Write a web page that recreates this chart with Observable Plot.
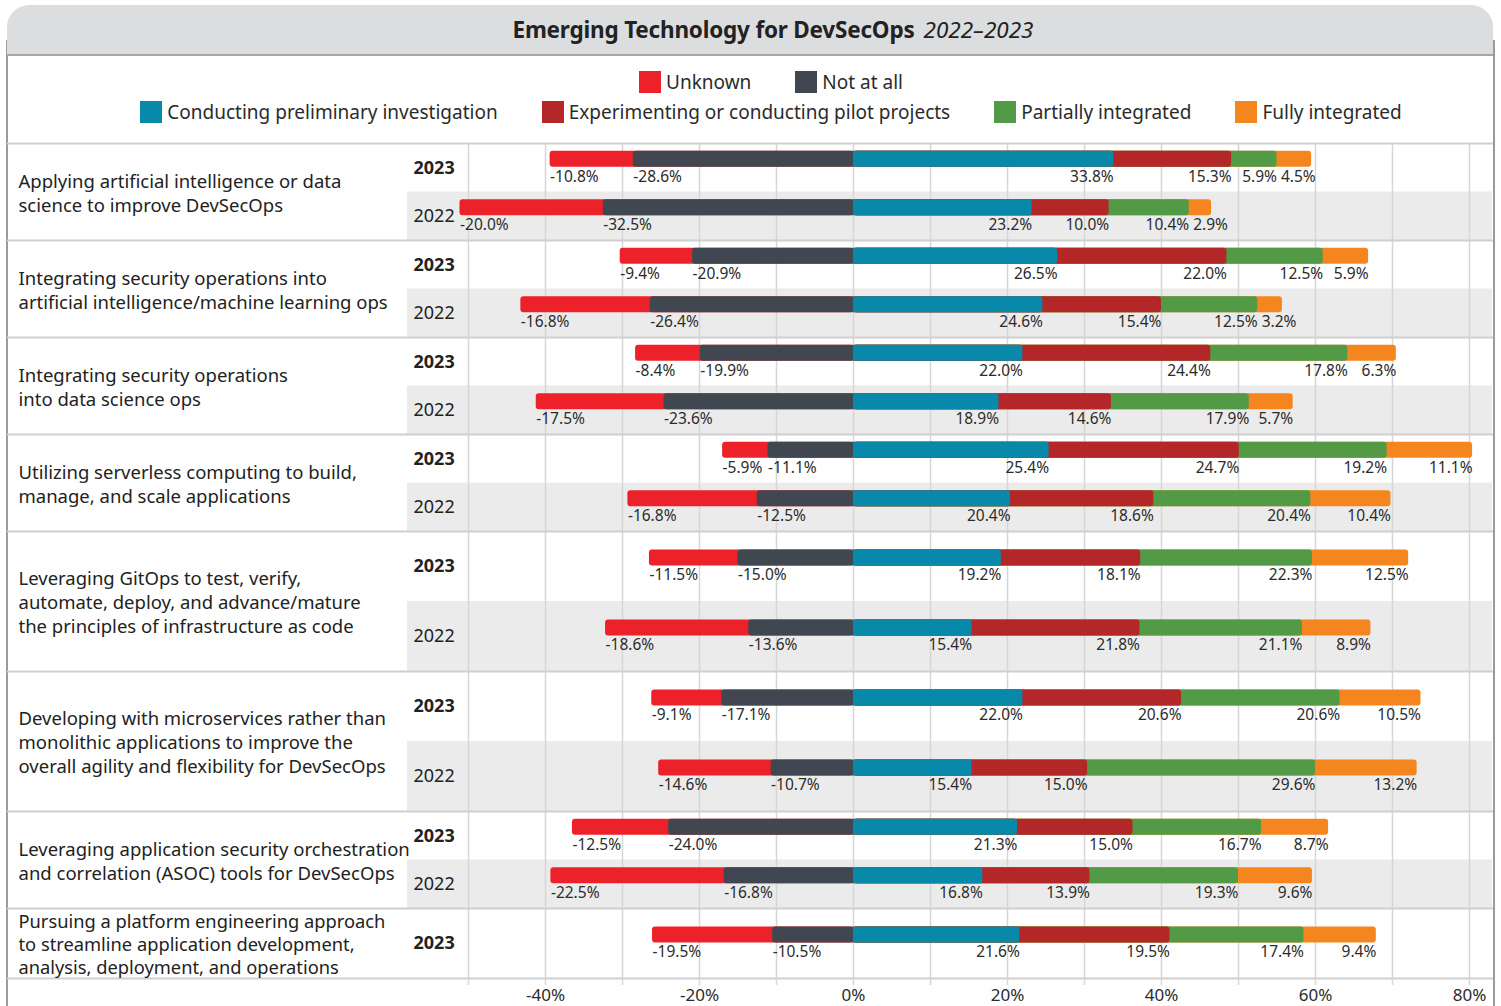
<!DOCTYPE html>
<html>
<head>
<meta charset="utf-8">
<script src="https://cdn.jsdelivr.net/npm/d3@7"></script>
<script src="https://cdn.jsdelivr.net/npm/@observablehq/plot@0.6"></script>
<style>
  body { margin: 0; background: #fff; font-family: "Noto Sans", sans-serif; color: #2b2b2b; }
  #wrap { position: relative; width: 1501px; height: 1006px; overflow: hidden; background: #fff; }
  #box { position: absolute; left: 6px; top: 40px; width: 1485px; height: 1000px; border-left: 2px solid #9b9b9b; border-right: 2px solid #9b9b9b; }
  #title { position: absolute; left: 7px; top: 5px; width: 1486px; height: 51px; background: #dcdddf;
           border-bottom: 2px solid #a7a7a7; border-radius: 22px 22px 0 0; display: flex; align-items: center;
           justify-content: center; padding-left: 46px; box-sizing: border-box; font-size: 22.5px; color: #222; }
  #title b { font-weight: 700; letter-spacing: -0.2px; }
  #title i { font-weight: 400; margin-left: 9px; }
  .lrow { position: absolute; left: 7px; width: 1486px; padding-left: 42px; box-sizing: border-box; display: flex;
          justify-content: center; align-items: center; font-size: 19px; color: #2b2b2b; height: 24px; }
  .item { display: flex; align-items: center; margin: 0 22px; white-space: nowrap; }
  .sw { width: 22px; height: 22px; margin-right: 5px; display: inline-block; }
  #chart { position: absolute; left: 0; top: 142px; }
</style>
</head>
<body>
<div id="wrap">
  <div id="box"></div>
  <div id="title"><b>Emerging Technology for DevSecOps</b><i>2022–2023</i></div>
  <div class="lrow" id="leg1" style="top:70px"></div>
  <div class="lrow" id="leg2" style="top:100px"></div>
  <div id="chart"></div>
</div>
<script>
// ---------------- data ----------------
const categories = [
  "Applying artificial intelligence or data\nscience to improve DevSecOps",
  "Integrating security operations into\nartificial intelligence/machine learning ops",
  "Integrating security operations\ninto data science ops",
  "Utilizing serverless computing to build,\nmanage, and scale applications",
  "Leveraging GitOps to test, verify,\nautomate, deploy, and advance/mature\nthe principles of infrastructure as code",
  "Developing with microservices rather than\nmonolithic applications to improve the\noverall agility and flexibility for DevSecOps",
  "Leveraging application security orchestration\nand correlation (ASOC) tools for DevSecOps",
  "Pursuing a platform engineering approach\nto streamline application development,\nanalysis, deployment, and operations"
];
const years = ["2023", "2022"];
const seriesNames = ["Unknown", "Not at all", "Conducting preliminary investigation",
  "Experimenting or conducting pilot projects", "Partially integrated", "Fully integrated"];
const seriesColors = ["#ed2129", "#414750", "#0889aa", "#b42728", "#529a45", "#f5861f"];

// 2023 survey (percent, as printed)
const unknown2023       = [10.8,  9.4,  8.4,  5.9, 11.5,  9.1, 12.5, 19.5];
const notAtAll2023      = [28.6, 20.9, 19.9, 11.1, 15.0, 17.1, 24.0, 10.5];
const conducting2023    = [33.8, 26.5, 22.0, 25.4, 19.2, 22.0, 21.3, 21.6];
const experimenting2023 = [15.3, 22.0, 24.4, 24.7, 18.1, 20.6, 15.0, 19.5];
const partially2023     = [ 5.9, 12.5, 17.8, 19.2, 22.3, 20.6, 16.7, 17.4];
const fully2023         = [ 4.5,  5.9,  6.3, 11.1, 12.5, 10.5,  8.7,  9.4];
// 2022 survey (percent, as printed) – no 2022 data for the last item
const unknown2022       = [20.0, 16.8, 17.5, 16.8, 18.6, 14.6, 22.5, null];
const notAtAll2022      = [32.5, 26.4, 23.6, 12.5, 13.6, 10.7, 16.8, null];
const conducting2022    = [23.2, 24.6, 18.9, 20.4, 15.4, 15.4, 16.8, null];
const experimenting2022 = [10.0, 15.4, 14.6, 18.6, 21.8, 15.0, 13.9, null];
const partially2022     = [10.4, 12.5, 17.9, 20.4, 21.1, 29.6, 19.3, null];
const fully2022         = [ 2.9,  3.2,  5.7, 10.4,  8.9, 13.2,  9.6, null];
// bar lengths as drawn in the original (a few negative bars differ from their printed labels)
const unknownBar2023    = [10.8,  9.4,  8.4,  5.9, 11.5,  9.1, 12.5, 15.6];
const notAtAllBar2023   = [28.6, 20.9, 19.9, 11.1, 15.0, 17.1, 24.0, 10.5];
const unknownBar2022    = [18.6, 16.8, 16.6, 16.8, 18.6, 14.6, 22.5, null];
const notAtAllBar2022   = [32.5, 26.4, 24.6, 12.5, 13.6, 10.7, 16.8, null];

const xTicks = [-40, -20, 0, 20, 40, 60, 80];

// ---------------- legend ----------------
function legendItem(i) {
  return `<span class="item"><span class="sw" style="background:${seriesColors[i]}"></span>${seriesNames[i]}</span>`;
}
document.getElementById("leg1").innerHTML = [0, 1].map(legendItem).join("");
document.getElementById("leg2").innerHTML = [2, 3, 4, 5].map(legendItem).join("");

// ---------------- layout tables ----------------
const seriesByYear = {
  "2023": [unknown2023, notAtAll2023, conducting2023, experimenting2023, partially2023, fully2023],
  "2022": [unknown2022, notAtAll2022, conducting2022, experimenting2022, partially2022, fully2022]
};
const negBarsByYear = {
  "2023": [unknownBar2023, notAtAllBar2023],
  "2022": [unknownBar2022, notAtAllBar2022]
};
const ROW_SHORT = 48.5, ROW_TALL = 70;
let cursor = 0;
const rows = [], groups = [], boundaries = [0];
categories.forEach((label, i) => {
  const nLines = label.split("\n").length;
  const h = nLines >= 3 ? ROW_TALL : ROW_SHORT;
  const g0 = cursor;
  years.forEach(year => {
    const v = seriesByYear[year].map(s => s[i]);
    if (v[0] == null) return;
    const nb = negBarsByYear[year].map(s => s[i]);
    rows.push({cat: i, year, y1: cursor, y2: cursor + h, mid: cursor + h / 2, v, nb});
    cursor += h;
  });
  groups.push({label, y1: g0, y2: cursor, mid: (g0 + cursor) / 2, nLines, last: i === categories.length - 1});
  boundaries.push(cursor);
});
const totalH = cursor;

// label width measurement for simple collision avoidance
const X0 = -50, X1 = 80, R0 = 468, R1 = 1469;
const pxPerUnit = (R1 - R0) / (X1 - X0);
const LABEL_SIZE = 15.5;
const ctx = document.createElement("canvas").getContext("2d");
ctx.font = `${LABEL_SIZE}px 'Noto Sans'`;
const tw = s => ctx.measureText(s).width;
const GAP = 4;

const segs = [], labels = [];
rows.forEach(r => {
  const [u, n, c, e, p, f] = r.v;
  const [ub, nbv] = r.nb;
  const bc = r.mid - 8.5;
  const b1 = bc - 8, b2 = bc + 8;
  // drawn from outer to inner so inner rounded ends sit over outer colours
  segs.push({x1: -(ub + nbv), x2: 0, y1: b1, y2: b2, s: 0});
  segs.push({x1: -nbv, x2: c, y1: b1, y2: b2, s: 1});
  segs.push({x1: 0, x2: c + e + p + f, y1: b1, y2: b2, s: 5});
  segs.push({x1: 0, x2: c + e + p, y1: b1, y2: b2, s: 4});
  segs.push({x1: 0, x2: c + e, y1: b1, y2: b2, s: 3});
  segs.push({x1: 0, x2: c, y1: b1, y2: b2, s: 2});
  const ly = bc + 17.5;
  // negative side: start-anchored at each segment's outer edge
  let prevRight = -Infinity;
  [[-(ub + nbv), u], [-nbv, n]].forEach(([x, val]) => {
    const t = `-${val.toFixed(1)}%`;
    let left = x * pxPerUnit;
    if (left < prevRight + GAP) left = prevRight + GAP;
    prevRight = left + tw(t);
    labels.push({x: left / pxPerUnit, y: ly, t, a: "start"});
  });
  // positive side: end-anchored at each segment's end, nudged right if crowded
  prevRight = -Infinity;
  [[c, c], [c + e, e], [c + e + p, p], [c + e + p + f, f]].forEach(([x, val]) => {
    const t = `${val.toFixed(1)}%`;
    const w = tw(t);
    let right = x * pxPerUnit;
    if (right - w < prevRight + GAP) right = prevRight + GAP + w;
    prevRight = right;
    labels.push({x: right / pxPerUnit, y: ly, t, a: "end"});
  });
});

// ---------------- plot ----------------
const H = 864, MT = 1;
const MB = H - MT - totalH;
const FONT = "'Noto Sans', sans-serif";
const chart = Plot.plot({
  width: 1501,
  height: H,
  marginLeft: 407,
  marginRight: 9,
  marginTop: MT,
  marginBottom: MB,
  x: {domain: [X0, X1], range: [R0, R1]},
  y: {domain: [0, totalH], range: [MT, MT + totalH], axis: null},
  style: {fontFamily: FONT, fontSize: "15px", color: "#2b2b2b", background: "transparent", overflow: "visible"},
  marks: [
    Plot.rect(rows.filter(r => r.year === "2022"), {y1: "y1", y2: "y2", fill: "#ebebeb"}),
    Plot.ruleX(d3.range(-50, 81, 10), {stroke: "#d6d6d6", strokeWidth: 1.5}),
    Plot.ruleY(boundaries, {stroke: "#cfcfcf", strokeWidth: 2, insetLeft: -400, insetRight: -1}),
    Plot.rect(segs, {x1: "x1", x2: "x2", y1: "y1", y2: "y2", fill: d => seriesColors[d.s], rx: 3}),
    Plot.text(labels.filter(d => d.a === "start"), {x: "x", y: "y", text: "t", textAnchor: "start", fill: "#2b2b2b", fontSize: LABEL_SIZE}),
    Plot.text(labels.filter(d => d.a === "end"), {x: "x", y: "y", text: "t", textAnchor: "end", fill: "#2b2b2b", fontSize: LABEL_SIZE}),
    Plot.text(rows.filter(r => r.year === "2023"), {y: "mid", text: "year", frameAnchor: "left", dx: 6, textAnchor: "start", fontWeight: "bold", fontSize: 18, fill: "#222"}),
    Plot.text(rows.filter(r => r.year === "2022"), {y: "mid", text: "year", frameAnchor: "left", dx: 6, textAnchor: "start", fontSize: 18, fill: "#222"}),
    Plot.text(groups.filter(g => !g.last), {y: "mid", text: "label", frameAnchor: "left", dx: -389, textAnchor: "start", lineAnchor: "middle", lineHeight: 1.3, fontSize: 18.5, fill: "#222"}),
    Plot.text(groups.filter(g => g.last), {y: "mid", text: "label", frameAnchor: "left", dx: -389, textAnchor: "start", lineAnchor: "middle", lineHeight: 1.26, fontSize: 18.3, fill: "#222"}),
    Plot.axisX({ticks: d3.range(-50, 81, 10), tickFormat: d => xTicks.includes(d) ? `${d}%` : "", tickSize: 7, tickPadding: 3, stroke: "#d6d6d6", strokeWidth: 1.5, fill: "#2b2b2b", fontSize: 17, label: null})
  ]
});
document.getElementById("chart").appendChild(chart);
</script>
</body>
</html>
